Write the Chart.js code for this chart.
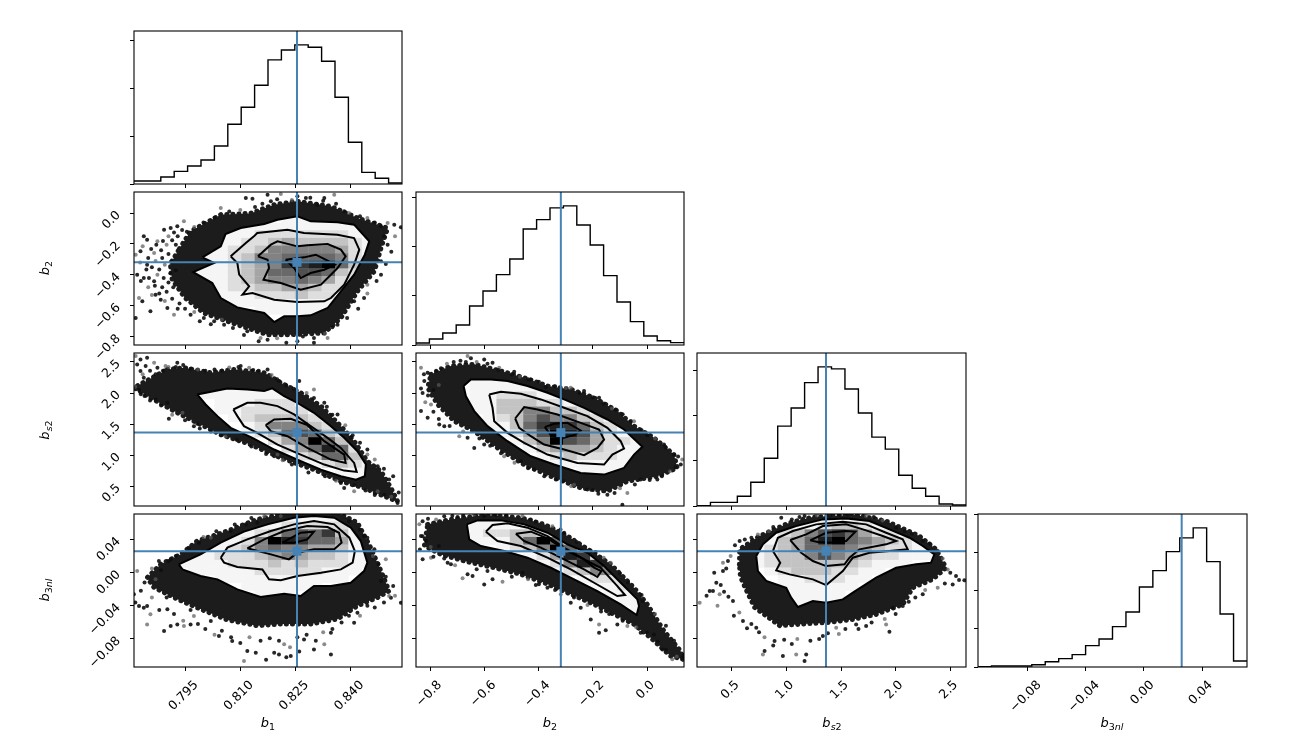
<!DOCTYPE html>
<html>
<head>
<meta charset="utf-8">
<script src="https://cdn.jsdelivr.net/npm/chart.js@4"></script>
<style>
  html, body { margin: 0; padding: 0; background: #fff; }
  #fig { position: relative; width: 1301px; height: 744px; overflow: hidden; }
  #fig canvas { position: absolute; left: 0; top: 0; }
  .lab { position: absolute; font: italic 13px "DejaVu Sans"; color: #000; white-space: nowrap; transform: translate(-50%, -50%); }
  .lab.rot { transform: translate(-50%, -50%) rotate(-90deg); }
  .lab sub { font-size: 9.5px; line-height: 0; vertical-align: -3px; }
  .lab sub span { font-style: normal; }
</style>
</head>
<body>
<div id="fig"></div>
<script>
// parameter ranges and truth values
const rangeB1 = [0.78114, 0.8539];
const rangeB2 = [-0.8544, 0.1368];
const rangeBs2 = [0.1825, 2.6436];
const rangeB3nl = [-0.1138, 0.0707];
const truthB1 = 0.8254;
const truthB2 = -0.3187;
const truthBs2 = 1.3628;
const truthB3nl = 0.0259;

// tick values and labels
const ticksB1 = [0.795, 0.81, 0.825, 0.84];
const ticksB2 = [-0.8, -0.6, -0.4, -0.2, 0];
const ticksBs2 = [0.5, 1, 1.5, 2, 2.5];
const ticksB3nl = [-0.08, -0.04, 0, 0.04];
const tickLabelsB1 = ["0.795", "0.810", "0.825", "0.840"];
const tickLabelsB2 = ["\u22120.8", "\u22120.6", "\u22120.4", "\u22120.2", "0.0"];
const tickLabelsBs2 = ["0.5", "1.0", "1.5", "2.0", "2.5"];
const tickLabelsB3nl = ["\u22120.08", "\u22120.04", "0.00", "0.04"];
const ticksCounts3k = [0, 1000, 2000, 3000];
const ticksCounts4k = [0, 1000, 2000, 3000, 4000];

// 1D histograms, 20 bins each
const histB1 = [63, 63, 147, 265, 377, 502, 796, 1249, 1605, 2066, 2596, 2805, 2910, 2861, 2568, 1814, 872, 244, 119, 21];
const histB2 = [41, 122, 245, 408, 796, 1102, 1435, 1755, 2367, 2558, 2796, 2837, 2449, 2041, 1415, 878, 476, 184, 88, 48];
const histBs2 = [7, 81, 81, 215, 526, 1059, 1770, 2170, 2733, 3081, 3037, 2593, 2059, 1526, 1259, 681, 393, 215, 44, 22];
const histB3nl = [9, 26, 26, 26, 61, 140, 219, 325, 561, 737, 1061, 1447, 2105, 2535, 3035, 3395, 3658, 2772, 1395, 158];

// b1 / b2
const cloudB1B2 = [[.7935,-.2300],[.7965,-.1181],[.8047,-.0101],[.8128,-.0017],[.8192,.0547],[.8255,.0763],[.8346,.0439],[.8418,-.0317],[.8500,-.0965],[.8482,-.2261],[.8464,-.3773],[.8418,-.5069],[.8373,-.6797],[.8328,-.7769],[.8237,-.7877],[.8174,-.7877],[.8092,-.7229],[.8001,-.6473],[.7950,-.5500],[.7915,-.4300],[.7910,-.3300]];
const outerB1B2 = [[.7997,-.2866],[.8047,-.2153],[.8060,-.1354],[.8101,-.0965],[.8165,-.0706],[.8201,-.0425],[.8255,-.0209],[.8291,-.0533],[.8364,-.0598],[.8409,-.0749],[.8450,-.1829],[.8438,-.2693],[.8409,-.3989],[.8373,-.5069],[.8337,-.6149],[.8291,-.6624],[.8255,-.6689],[.8219,-.6689],[.8192,-.7056],[.8165,-.6473],[.8092,-.6106],[.8047,-.5501],[.8024,-.4529],[.7972,-.3816],[.8029,-.3233]];
const levelsB1B2 = [
  [[.8074,-.2801],[.8115,-.1937],[.8137,-.1505],[.8146,-.1289],[.8228,-.1073],[.8273,-.1289],[.8364,-.1397],[.8409,-.1613],[.8423,-.2369],[.8409,-.3341],[.8382,-.4637],[.8346,-.5501],[.8328,-.5717],[.8255,-.5760],[.8192,-.5609],[.8133,-.5177],[.8106,-.5285],[.8124,-.4745],[.8097,-.3989],[.8092,-.3233]],
  [[.8148,-.2801],[.8183,-.2045],[.8201,-.1829],[.8255,-.2153],[.8282,-.2088],[.8337,-.2002],[.8373,-.2369],[.8386,-.2801],[.8364,-.3557],[.8319,-.4637],[.8264,-.4961],[.8210,-.4529],[.8163,-.4313],[.8178,-.3557],[.8174,-.3017]],
  [[.8223,-.3017],[.8273,-.2866],[.8305,-.2693],[.8337,-.3082],[.8357,-.3341],[.8328,-.3665],[.8291,-.3881],[.8264,-.4205],[.8246,-.3557]]
];
const samplesB1B2 = [[.7816,-.2693],[.7829,-.2477],[.7838,-.1505],[.7847,-.1721],[.7825,-.5501],[.7834,-.5717],[.7856,-.6365],[.7816,-.6797],[.7875,-.1829],[.7893,-.1073],[.7911,-.0965],[.7929,-.0857],[.7947,-.0533],[.7838,-.4205],[.7866,-.4421],[.7884,-.5609],[.7920,-.6581],[.7965,-.6581],[.8001,-.6797],[.7902,-.6149],[.7866,-.2585],[.7847,-.3341],[.7820,-.3989],[.7870,-.5285],[.8047,.0331],[.8115,.0979],[.8133,.0936],[.8174,.1195],[.8210,.1238],[.8255,.1087],[.8278,.0979],[.8328,.0979],[.8355,.1195],[.8183,.0763],[.8309,.0547],[.8382,.0115],[.8445,-.0317],[.8482,-.0857],[.8518,-.0749],[.8536,-.0922],[.8500,-.0641],[.8500,-.2045],[.8482,-.3125],[.8482,-.3989],[.8445,-.4637],[.8436,-.5501],[.8409,-.5717],[.8364,-.7229],[.8337,-.8093],[.8300,-.8093],[.8255,-.8309],[.8174,-.8201],[.8155,-.8093],[.8119,-.7661],[.8056,-.7229],[.8029,-.7013],
  [.7835,-.215],[.7858,-.232],[.7872,-.205],[.7890,-.180],[.7905,-.150],[.7920,-.125],[.7942,-.110],[.7885,-.240],[.7900,-.205],[.7915,-.175],[.7930,-.150],[.7850,-.290],[.7870,-.310],[.7888,-.290],[.7905,-.265],[.7925,-.205],[.7828,-.320],[.7845,-.365],[.7860,-.350],[.7880,-.365],[.7895,-.335],[.7912,-.315],[.7830,-.440],[.7852,-.420],[.7875,-.400],[.7892,-.420],[.7910,-.390],[.7925,-.370],[.7850,-.480],[.7868,-.470],[.7888,-.480],[.7905,-.450],[.7860,-.530],[.7880,-.520],[.7900,-.510],[.7918,-.480],[.7895,-.570],[.7915,-.555],[.7935,-.585],[.7950,-.620],[.7975,-.640],[.7930,-.620],[.7990,-.700],[.8020,-.720],[.8050,-.690],[.8080,-.745],[.8110,-.790],[.8150,-.830],[.8200,-.810],[.8225,-.840],[.8270,-.800],[.8300,-.840],[.8330,-.780],[.8350,-.740],[.8390,-.680],[.8420,-.620],[.8445,-.520],[.8470,-.440],[.8495,-.330],[.8510,-.250],[.8520,-.150],[.8490,-.150],[.8465,-.060],[.8425,-.020],[.8395,.000],[.8360,.060],[.8325,.080],[.8290,.100],[.8240,.085],[.8200,.090],[.8160,.060],[.8140,.040],[.8100,.020],[.8070,.010],[.8030,-.030],[.8000,-.060],[.7975,-.090],[.7955,-.120]];
const densityB1B2 = ["","","",
  "00000000000111000000","00000001111111111000","00000001122222221000","00000011223433332100","00000012235555542100","00000112355666652100","00000112345889a63100",
  "00001112346677632100","00000112345565422000","00000012233443221000","00000011122232210000","00000001111111100000","00000000011111000000","","","",""];

// b1 / bs2
const cloudB1Bs2 = [[.7902,2.380],[.7947,2.407],[.8020,2.327],[.8083,2.380],[.8165,2.327],[.8210,2.165],[.8264,2.004],[.8319,1.789],[.8373,1.467],[.8409,1.225],[.8445,.902],[.8482,.741],[.8509,.473],[.8527,.258],[.8491,.338],[.8436,.473],[.8373,.580],[.8300,.768],[.8210,.956],[.8128,1.171],[.8047,1.332],[.7983,1.520],[.7920,1.709],[.7856,1.923],[.7811,2.085]];
const outerB1Bs2 = [[.7983,1.977],[.8065,2.074],[.8119,2.058],[.8165,2.031],[.8187,2.074],[.8219,1.950],[.8255,1.843],[.8300,1.682],[.8346,1.467],[.8382,1.279],[.8418,1.064],[.8441,.849],[.8438,.661],[.8414,.607],[.8373,.661],[.8319,.768],[.8255,.929],[.8192,1.091],[.8133,1.279],[.8074,1.440],[.8038,1.628],[.8006,1.816]];
const levelsB1Bs2 = [
  [[.8081,1.735],[.8119,1.843],[.8155,1.843],[.8201,1.789],[.8246,1.655],[.8291,1.467],[.8337,1.279],[.8373,1.117],[.8409,.876],[.8416,.731],[.8382,.752],[.8328,.849],[.8264,1.010],[.8201,1.171],[.8146,1.359],[.8110,1.467],[.8092,1.628]],
  [[.8169,1.483],[.8192,1.574],[.8237,1.585],[.8282,1.483],[.8328,1.225],[.8382,1.010],[.8386,.876],[.8346,.929],[.8282,1.117],[.8228,1.305],[.8183,1.386]]
];
const samplesB1Bs2 = [[.7816,2.595],[.7829,2.541],[.7847,2.568],[.7843,2.434],[.7866,2.488],[.7829,2.353],[.7838,2.246],[.7875,2.407],[.7897,2.434],[.7929,2.488],[.7870,1.897],[.7902,1.843],[.7943,1.682],[.7906,1.585],[.7974,1.467],[.8101,2.434],[.8124,2.407],[.8174,2.380],[.8205,2.192],[.8260,2.192],[.8300,2.058],[.8328,1.843],[.8364,1.655],[.8400,1.279],[.8445,1.010],[.8473,.822],[.8504,.607],[.8491,.365],[.8473,.419],[.8527,.231],[.8373,.553],[.8382,.473],[.8409,.419],[.8264,.902],[.8300,.822],[.8192,.983],[.8201,1.010],[.8047,1.322],[.7983,1.504],
  [.7820,2.46],[.7835,2.30],[.7855,2.36],[.7870,2.30],[.7890,2.36],[.7905,2.42],[.7925,2.42],[.7945,2.45],[.7965,2.39],[.7985,2.38],[.8005,2.36],[.8030,2.38],[.8050,2.36],[.8070,2.41],[.8095,2.42],[.8135,2.37],[.8150,2.36],[.8185,2.29],[.8200,2.22],[.8225,2.12],[.8245,2.07],[.8280,2.00],[.8300,1.92],[.8335,1.78],[.8350,1.65],[.8385,1.48],[.8405,1.32],[.8425,1.20],[.8445,1.09],[.8465,.93],[.8490,.78],[.8515,.66],[.8530,.40],[.8510,.33],[.8465,.36],[.8440,.43],[.8410,.52],[.8360,.59],[.8330,.66],[.8285,.72],[.8240,.85],[.8215,.92],[.8170,1.02],[.8130,1.14],[.8090,1.25],[.8060,1.30],[.8020,1.38],[.7990,1.43],[.7950,1.56],[.7915,1.65],[.7885,1.80],[.7855,1.88],[.7830,1.98],[.7815,2.10],[.7825,2.05],[.7840,1.95]];
const densityB1Bs2 = ["","","","",
  "00000011111","000001111111","0000001112221","00000011222221","000000012333321","0000000012555321","00000000123676321","0000000000245a631","000000000002469621","000000000000236631","000000000000012321","000000000000000111","000000000000000011","","",""];

// b1 / b3nl
const cloudB1B3 = [[.7884,.0100],[.7938,.0220],[.7983,.0381],[.8065,.0502],[.8146,.0642],[.8237,.0723],[.8364,.0723],[.8418,.0602],[.8454,.0301],[.8482,.0019],[.8504,-.0222],[.8473,-.0300],[.8418,-.0400],[.8364,-.0560],[.8291,-.0620],[.8210,-.0620],[.8146,-.0640],[.8065,-.0570],[.7992,-.0440],[.7929,-.0320],[.7866,-.0180],[.7847,-.0061]];
const outerB1B3 = [[.7933,.0100],[.7992,.0220],[.8047,.0361],[.8110,.0494],[.8174,.0582],[.8246,.0662],[.8300,.0683],[.8355,.0662],[.8400,.0542],[.8427,.0381],[.8445,.0120],[.8436,.0019],[.8400,-.0122],[.8346,-.0162],[.8300,-.0162],[.8264,-.0282],[.8219,-.0254],[.8155,-.0294],[.8092,-.0202],[.8038,-.0081],[.7992,-.0041],[.7943,.0039]];
const levelsB1B3 = [
  [[.8047,.0180],[.8065,.0301],[.8119,.0401],[.8183,.0502],[.8246,.0582],[.8300,.0622],[.8355,.0582],[.8396,.0421],[.8411,.0260],[.8405,.0120],[.8373,.0039],[.8319,-.0001],[.8255,-.0041],[.8210,-.0093],[.8178,-.0081],[.8160,.0039],[.8092,.0067],[.8056,.0120]],
  [[.8119,.0293],[.8165,.0401],[.8219,.0502],[.8282,.0562],[.8337,.0550],[.8368,.0481],[.8375,.0361],[.8355,.0281],[.8300,.0281],[.8255,.0240],[.8232,.0160],[.8183,.0220]],
  [[.8214,.0361],[.8264,.0481],[.8300,.0494],[.8282,.0401],[.8246,.0361]]
];
const samplesB1B3 = [[.7820,.0019],[.7825,-.0403],[.7838,-.0423],[.7847,-.0403],[.7847,-.0624],[.7911,-.0644],[.7929,-.0624],[.7893,-.0704],[.7947,-.0644],[.7879,.0140],[.7911,.0160],[.7988,.0361],[.8020,.0421],[.8074,.0502],[.8115,.0582],[.8146,.0602],[.8210,.0682],[.8300,.0695],[.8436,.0441],[.8464,.0281],[.8495,.0160],[.8482,-.0101],[.8509,-.0302],[.8536,-.0363],[.8504,-.0282],[.8418,-.0483],[.8409,-.0604],[.8346,-.0725],[.8328,-.0865],[.8346,-.0986],[.8300,-.0926],[.8273,-.0805],[.8219,-.0865],[.8192,-.0966],[.8142,-.0966],[.8119,-.0946],[.8110,-.1066],[.8078,-.0825],[.8042,-.0765],[.8020,-.0584],[.7974,-.0524],[.7965,-.0624],[.7811,-.0262],[.7902,-.0443],[.7856,-.0503],[.8237,-.1006],[.8205,-.0986],
  [.7840,-.012],[.7860,-.030],[.7880,-.045],[.7900,-.030],[.7920,-.050],[.7945,-.058],[.7965,-.045],[.7985,-.062],[.8005,-.068],[.8030,-.075],[.8050,-.070],[.8075,-.078],[.8100,-.085],[.8125,-.078],[.8155,-.082],[.8180,-.079],[.8205,-.082],[.8235,-.090],[.8255,-.078],[.8280,-.075],[.8305,-.082],[.8325,-.072],[.8350,-.068],[.8375,-.060],[.8395,-.052],[.8425,-.052],[.8445,-.040],[.8465,-.042],[.8490,-.036],[.8520,-.028],[.8515,-.016],[.8495,-.005],[.8475,.010],[.8460,.020],[.8445,.042],[.8425,.052],[.8395,.062],[.7860,.005],[.7885,.003],[.7905,.014],[.7925,.020],[.7870,-.008],[.7830,-.022],[.7815,-.036],[.7960,.030],[.8000,.043],[.8035,.050],[.8085,.058],[.8130,.066],[.8165,.068],[.8260,-.095],[.8170,-.105],[.8225,-.102]];
const densityB1B3 = ["0000000000111111","00000000011222221","000000011236768311","0000001125a9866411","000001123565544311","000011222345433211","000111122232322211","00001111122222111","0000001111111111","00000000111111","000000000111","","","","","","","","",""];

// b2 / bs2
const cloudB2Bs2 = [[-.7990,2.300],[-.7252,2.434],[-.6390,2.461],[-.5405,2.354],[-.4543,2.246],[-.3682,2.112],[-.2820,2.058],[-.1958,1.923],[-.1097,1.709],[-.0481,1.467],[.0257,1.279],[.0996,1.010],[.1119,.795],[.0381,.661],[-.0727,.580],[-.1466,.419],[-.2451,.473],[-.3559,.661],[-.4543,.849],[-.5528,1.117],[-.6390,1.386],[-.7129,1.547],[-.7744,1.816],[-.8113,2.085]];
const outerB2Bs2 = [[-.6784,2.112],[-.6513,2.219],[-.5775,2.219],[-.5159,2.192],[-.4420,2.112],[-.3682,2.004],[-.3066,1.897],[-.2328,1.762],[-.1466,1.574],[-.0850,1.413],[-.0173,1.134],[-.0481,1.010],[-.0850,.795],[-.1589,.688],[-.2451,.714],[-.3436,.849],[-.4297,.983],[-.5159,1.225],[-.5898,1.467],[-.6390,1.709],[-.6698,1.950]];
const levelsB2Bs2 = [
  [[-.5836,1.977],[-.5405,2.020],[-.4666,1.988],[-.3928,1.897],[-.3066,1.762],[-.2205,1.628],[-.1466,1.440],[-.0974,1.225],[-.0850,1.107],[-.1281,1.010],[-.1589,.849],[-.2574,.876],[-.3682,1.010],[-.4543,1.198],[-.5159,1.359],[-.5651,1.547],[-.5713,1.762]],
  [[-.4876,1.590],[-.4543,1.773],[-.4051,1.735],[-.3313,1.655],[-.2451,1.520],[-.1774,1.413],[-.1589,1.252],[-.1835,1.117],[-.2328,.999],[-.3066,1.091],[-.3805,1.171],[-.4297,1.305],[-.4728,1.440]],
  [[-.3780,1.451],[-.3436,1.504],[-.2943,1.520],[-.2451,1.397],[-.2697,1.322],[-.3189,1.268],[-.3559,1.322]]
];
const samplesB2Bs2 = [[-.8360,2.407],[-.8113,2.327],[-.8237,2.192],[-.8360,2.074],[-.6636,2.595],[-.6513,2.558],[-.6021,2.541],[-.5713,2.488],[-.5467,2.407],[-.4913,2.343],[-.4297,2.219],[-.3743,2.095],[-.2820,2.085],[-.2328,2.031],[-.1774,1.923],[-.1158,1.735],[-.0481,1.547],[.0011,1.322],[.0627,1.171],[.0996,1.010],[.1304,.929],[.1057,.806],[.0381,.607],[-.0235,.607],[-.0727,.392],[-.0912,.204],[-.1466,.365],[-.2205,.446],[-.2697,.526],[-.3374,.607],[-.4174,.768],[-.4666,.902],[-.5282,.983],[-.6021,1.171],[-.6390,1.117],[-.6636,1.279],[-.6944,1.305],[-.7683,1.494],[-.8113,1.601],[-.8360,1.709],[-.7990,1.816],[-.7498,1.467],
  [-.7800,2.36],[-.7620,2.40],[-.7400,2.47],[-.7150,2.50],[-.6900,2.52],[-.6700,2.50],[-.6300,2.50],[-.5900,2.47],[-.5500,2.37],[-.5000,2.30],[-.4700,2.26],[-.4400,2.22],[-.4000,2.18],[-.3400,2.11],[-.3000,2.08],[-.2500,2.00],[-.2000,1.93],[-.1600,1.83],[-.1300,1.75],[-.0900,1.66],[-.0600,1.55],[-.0200,1.40],[.0300,1.27],[.0700,1.12],[.1150,.98],[.1250,.85],[.0850,.74],[.0550,.66],[.0100,.60],[-.0450,.53],[-.1000,.47],[-.1200,.39],[-.1800,.38],[-.2000,.44],[-.2800,.50],[-.3100,.58],[-.3800,.66],[-.4400,.79],[-.4900,.88],[-.5400,1.03],[-.5800,1.15],[-.6200,1.27],[-.6800,1.38],[-.7300,1.47],[-.7700,1.58],[-.7900,1.70],[-.8200,1.85],[-.8100,1.96],[-.8300,2.00],[-.8250,2.30],[-.7700,2.13],[-.7900,2.05]];
const densityB2Bs2 = ["","","",
  "00001111","0000111111","00001122211","0000113332211","00001133553321","0000012357553211","0000011368986321","0000001247a974211","0000000135a764221","00000000134443211","0000000001232221","0000000000111111","000000000000111","","","",""];

// b2 / b3nl
const cloudB2B3 = [[-.8113,.0582],[-.7252,.0642],[-.6021,.0695],[-.4666,.0662],[-.3805,.0582],[-.2943,.0441],[-.2081,.0260],[-.1343,.0100],[-.0481,-.0182],[.0011,-.0383],[.0627,-.0704],[.1243,-.0946],[.1341,-.1046],[.0873,-.1006],[.0134,-.0785],[-.0481,-.0624],[-.1220,-.0503],[-.1958,-.0383],[-.2943,-.0242],[-.3805,-.0122],[-.4666,-.0021],[-.5651,.0059],[-.6759,.0140],[-.7621,.0220],[-.8236,.0321]];
const outerB2B3 = [[-.6661,.0582],[-.6267,.0630],[-.5405,.0630],[-.4543,.0582],[-.3682,.0481],[-.2943,.0341],[-.2205,.0240],[-.1589,.0079],[-.0973,-.0122],[-.0358,-.0323],[-.0296,-.0403],[-.0383,-.0511],[-.0973,-.0383],[-.1835,-.0222],[-.2697,-.0081],[-.3559,.0059],[-.4420,.0180],[-.5282,.0260],[-.6144,.0321],[-.6575,.0401]];
const levelsB2B3 = [
  [[-.5959,.0494],[-.5713,.0574],[-.5159,.0594],[-.4420,.0542],[-.3682,.0441],[-.3066,.0301],[-.2328,.0160],[-.1712,.0059],[-.1097,-.0162],[-.0813,-.0270],[-.1097,-.0282],[-.1958,-.0122],[-.2820,.0039],[-.3682,.0180],[-.4666,.0321],[-.5528,.0381]],
  [[-.4851,.0469],[-.4297,.0494],[-.3682,.0413],[-.2943,.0260],[-.2328,.0160],[-.1958,.0059],[-.1688,.0019],[-.1835,-.0053],[-.2328,.0039],[-.3066,.0160],[-.3928,.0301],[-.4543,.0381]]
];
const samplesB2B3 = [[-.8421,.0582],[-.8360,.0441],[-.8175,.0381],[-.8298,.0160],[-.7990,.0180],[-.7375,.0120],[-.7252,.0100],[-.6636,-.0021],[-.6821,-.0069],[-.6451,-.0041],[-.6021,-.0142],[-.5713,-.0081],[-.5344,-.0109],[-.4605,-.0001],[-.4113,-.0150],[-.3682,-.0182],[-.3189,-.0262],[-.2820,-.0363],[-.2451,-.0423],[-.2081,-.0564],[-.1774,-.0624],[-.1774,-.0725],[-.1527,-.0696],[-.1097,-.0624],[-.0727,-.0644],[-.0235,-.0725],[.0257,-.0745],[.0565,-.0926],[.0935,-.1046],[.1304,-.1026],[-.7006,.0670],[-.6021,.0682],[-.4605,.0682],[-.4113,.0614],[-.3066,.0481],[-.2081,.0260],[-.1343,.0120],[-.0173,-.0343],
  [-.8300,.0620],[-.8100,.0650],[-.7800,.0640],[-.7500,.0680],[-.7200,.0685],[-.6800,.0690],[-.6400,.0700],[-.5600,.0695],[-.5200,.0690],[-.4300,.0640],[-.3500,.0560],[-.3200,.0520],[-.2600,.0370],[-.1900,.0250],[-.1600,.0180],[-.1000,-.0010],[-.0700,-.0120],[-.0200,-.0270],[.0300,-.0500],[.0700,-.0640],[.1000,-.0820],[.1350,-.1000],[.1100,-.1010],[.0700,-.0930],[.0400,-.0830],[.0000,-.0720],[-.0400,-.0660],[-.0900,-.0580],[-.1400,-.0500],[-.1700,-.0470],[-.2200,-.0390],[-.2700,-.0300],[-.3400,-.0210],[-.4000,-.0140],[-.4400,-.0080],[-.5000,-.0050],[-.5900,.0020],[-.6300,.0040],[-.7100,.0090],[-.7500,.0170],[-.7900,.0190],[-.8400,.0280],[-.8000,.0310],[-.8300,.0440],[-.7700,.0320]];
const densityB2B3 = ["",
  "0000111111","00001223321","000011136a61","0000001235a61","00000000124982","000000000125981","0000000000123551","00000000000012221","00000000000001121","00000000000000111","00000000000000011","00000000000000001","","","","","","",""];

// bs2 / b3nl
const cloudBs2B3 = [[.5700,.0100],[.5724,.0281],[.7552,.0441],[1.0293,.0602],[1.2425,.0670],[1.6385,.0695],[1.9127,.0622],[2.2173,.0441],[2.3695,.0281],[2.4609,.0059],[2.3391,-.0081],[2.1563,-.0182],[2.0649,-.0383],[1.8213,-.0503],[1.6081,-.0564],[1.3949,-.0600],[1.1500,-.0620],[.9400,-.0640],[.7100,-.0420],[.6300,-.0200],[.5800,-.0050]];
const outerBs2B3 = [[.7247,.0200],[.7856,.0341],[.9075,.0481],[1.0902,.0562],[1.3339,.0642],[1.5471,.0654],[1.7604,.0622],[1.9431,.0522],[2.1259,.0421],[2.2477,.0321],[2.3543,.0220],[2.3239,.0120],[2.1868,.0100],[2.0040,.0059],[1.8213,-.0061],[1.6081,-.0242],[1.5167,-.0323],[1.3644,-.0363],[1.2425,-.0343],[1.1055,-.0415],[1.0445,-.0302],[.9988,-.0182],[.8161,-.0101],[.7399,.0019]];
const levelsBs2B3 = [
  [[.8770,.0260],[.9227,.0421],[1.0598,.0502],[1.2730,.0582],[1.5167,.0614],[1.7299,.0582],[1.9127,.0481],[2.0649,.0401],[2.1106,.0281],[1.9431,.0260],[1.7604,.0240],[1.6081,.0180],[1.5167,.0019],[1.3644,-.0150],[1.2425,-.0081],[1.0293,-.0021],[.9075,.0027],[.9440,.0120]],
  [[1.0354,.0393],[1.1816,.0461],[1.3339,.0562],[1.5471,.0582],[1.7299,.0510],[1.8822,.0441],[2.0040,.0381],[1.9127,.0341],[1.6690,.0281],[1.5776,.0180],[1.5319,.0100],[1.3644,.0079],[1.2425,.0140],[1.1359,.0240]],
  [[1.2182,.0389],[1.3644,.0481],[1.5471,.0502],[1.6324,.0494],[1.5471,.0381],[1.3949,.0361],[1.2882,.0369]]
];
const samplesBs2B3 = [[.2069,-.0363],[.2983,-.0222],[.3592,-.0122],[.3287,-.0222],[.4201,.0120],[.4658,.0140],[.5724,.0381],[.4201,.0019],[.7399,.0461],[.9532,.0662],[1.1664,.0682],[1.4862,.0695],[1.7299,.0682],[2.0040,.0542],[2.2477,.0381],[2.3848,.0260],[2.4762,.0039],[2.5523,-.0041],[2.6285,-.0093],[2.5218,-.0142],[2.3848,-.0182],[2.2477,-.0262],[2.0649,-.0403],[1.9736,-.0423],[1.9127,-.0624],[1.9431,-.0713],[1.7299,-.0644],[1.6385,-.0624],[1.4558,-.0664],[1.3339,-.0765],[1.1816,-.0986],[1.1664,-.1066],[1.0902,-.0986],[.9684,-.1006],[.8009,-.0946],[.8922,-.0825],[.7856,-.0986],[.7247,-.0664],[.6029,-.0584],[.5115,-.0343],[.3896,-.0262],
  [.3400,.0000],[.4000,-.0150],[.4500,.0050],[.4900,.0200],[.5300,.0330],[.6200,.0400],[.6800,.0420],[.8400,.0500],[.8800,.0550],[1.0500,.0640],[1.1200,.0670],[1.2800,.0690],[1.4000,.0690],[1.5600,.0700],[1.8000,.0670],[1.8800,.0630],[2.0800,.0500],[2.1500,.0470],[2.3100,.0350],[2.4300,.0170],[2.5000,.0000],[2.5800,-.0090],[2.4500,-.0130],[2.2700,-.0210],[2.1800,-.0300],[2.1200,-.0350],[2.0000,-.0500],[1.9000,-.0560],[1.7800,-.0600],[1.6600,-.0680],[1.5400,-.0680],[1.4800,-.0740],[1.3800,-.0730],[1.3000,-.0800],[1.2200,-.0820],[1.1000,-.0800],[1.0500,-.0860],[.9800,-.0810],[.8800,-.0880],[.8000,-.0780],[.7500,-.0720],[.6800,-.0620],[.6400,-.0670],[.5700,-.0480],[.5200,-.0520],[.4700,-.0290],[.4300,-.0230],[.3700,-.0400],[.2700,-.0280]];
const densityBs2B3 = ["0000000001111","00000001123321","0000002357864221","0000013469a654321","000012346665432211","000012335754322111","0000123333332111","00000123332211","0000001122211","000000111111","00000001111","00000001111","","","","","","","",""];

const colLeft = [134, 416, 697, 978];
const colRight = [402, 684, 966, 1247];
const rowTop = [31, 192, 353, 514];
const rowBottom = [184, 345, 506, 667];
const grays = [255, 245, 222, 195, 165, 130, 105, 80, 55, 30, 0];
const tickFont = '12.5px "DejaVu Sans"';
const fig = document.getElementById("fig");

function toPoints(pairs) {
  return pairs.map((p) => ({ x: p[0], y: p[1] }));
}

function closed(pairs) {
  return toPoints(pairs.concat([pairs[0]]));
}

// frame and tick labels, matplotlib style (rotated 45 degrees)
function framePlugin(xLabels, yLabels) {
  return {
    id: "frame",
    afterDraw(chart) {
      const { ctx, chartArea: a, scales } = chart;
      ctx.save();
      ctx.strokeStyle = "#000";
      ctx.lineWidth = 1.1;
      ctx.strokeRect(a.left, a.top, a.right - a.left, a.bottom - a.top);
      ctx.fillStyle = "#000";
      ctx.font = tickFont;
      ctx.textAlign = "center";
      ctx.textBaseline = "middle";
      const ext = (s) => ((ctx.measureText(s).width + 6) * Math.SQRT1_2) / 2;
      const put = (s, x, y) => {
        ctx.save();
        ctx.translate(x, y);
        ctx.rotate(-Math.PI / 4);
        ctx.fillText(s, 0, 0);
        ctx.restore();
      };
      if (xLabels) {
        scales.x.ticks.forEach((t, i) => {
          put(xLabels[i], scales.x.getPixelForValue(t.value) - 1.5, a.bottom + 14 + ext(xLabels[i]));
        });
      }
      if (yLabels) {
        scales.y.ticks.forEach((t, i) => {
          put(yLabels[i], a.left - 13.3 - ext(yLabels[i]), scales.y.getPixelForValue(t.value) - 2 + ext(yLabels[i]));
        });
      }
      ctx.restore();
    },
  };
}

// white area inside the outer contour plus the 2D histogram cells
function densityPlugin(outer, density, xr, yr) {
  return {
    id: "density",
    afterDatasetDraw(chart, args) {
      if (chart.data.datasets[args.index].label !== "samples") return;
      const { ctx, scales } = chart;
      const px = (v) => scales.x.getPixelForValue(v);
      const py = (v) => scales.y.getPixelForValue(v);
      const dx = (xr[1] - xr[0]) / 20;
      const dy = (yr[1] - yr[0]) / 20;
      ctx.save();
      ctx.beginPath();
      outer.forEach((p, i) => (i ? ctx.lineTo(px(p[0]), py(p[1])) : ctx.moveTo(px(p[0]), py(p[1]))));
      ctx.closePath();
      ctx.fillStyle = "#fff";
      ctx.fill();
      ctx.clip();
      density.forEach((row, j) => {
        for (let i = 0; i < row.length; i++) {
          const level = parseInt(row[i], 16);
          if (!level) continue;
          const g = grays[level];
          const x0 = px(xr[0] + i * dx);
          const x1 = px(xr[0] + (i + 1) * dx);
          const y0 = py(yr[1] - j * dy);
          const y1 = py(yr[1] - (j + 1) * dy);
          ctx.fillStyle = `rgb(${g},${g},${g})`;
          ctx.fillRect(x0, y0, x1 - x0 + 0.3, y1 - y0 + 0.3);
        }
      });
      ctx.restore();
    },
  };
}

function scaleOptions(range, ticks, horizontal) {
  return {
    type: "linear",
    min: range[0],
    max: range[1],
    position: horizontal ? "bottom" : "left",
    afterBuildTicks(scale) {
      scale.ticks = ticks.map((value) => ({ value }));
    },
    afterFit(scale) {
      if (horizontal) scale.height = 0;
      else scale.width = 0;
    },
    ticks: { display: false, autoSkip: false },
    border: { display: false },
    grid: { drawOnChartArea: false, color: "#000", tickLength: 4, tickWidth: 1 },
  };
}

function addChart(col, row, datasets, xAxis, yAxis, xLabels, yLabels, extra) {
  const canvas = document.createElement("canvas");
  canvas.width = 1301;
  canvas.height = 744;
  canvas.style.width = "1301px";
  canvas.style.height = "744px";
  fig.appendChild(canvas);
  new Chart(canvas, {
    type: "scatter",
    data: { datasets },
    options: {
      responsive: false,
      animation: false,
      devicePixelRatio: 1,
      layout: {
        autoPadding: false,
        padding: { left: colLeft[col], right: 1301 - colRight[col], top: rowTop[row], bottom: 744 - rowBottom[row] },
      },
      plugins: { legend: { display: false }, tooltip: { enabled: false } },
      scales: {
        x: scaleOptions(xAxis.range, xAxis.ticks, true),
        y: scaleOptions(yAxis.range, yAxis.ticks, false),
      },
    },
    plugins: (extra || []).concat([framePlugin(xLabels, yLabels)]),
  });
}

function truthLine(a, b) {
  return { data: [a, b], showLine: true, pointRadius: 0, borderColor: "#4682b4", borderWidth: 2 };
}

function addHist(i, axis, hist, truth, countTicks) {
  const w = (axis.range[1] - axis.range[0]) / hist.length;
  const steps = hist.map((v, k) => ({ x: axis.range[0] + k * w, y: v }));
  steps.push({ x: axis.range[1], y: hist[hist.length - 1] });
  const top = Math.max(...hist) * 1.1;
  addChart(i, i, [
    truthLine({ x: truth, y: 0 }, { x: truth, y: top }),
    { data: steps, showLine: true, stepped: true, pointRadius: 0, borderColor: "#000", borderWidth: 1.4 },
  ], axis, { range: [0, top], ticks: countTicks }, i === 3 ? tickLabelsB3nl : null, null);
}

function addPair(col, row, xAxis, yAxis, p, xLabels, yLabels) {
  const contour = (pairs) => ({ data: closed(pairs), showLine: true, pointRadius: 0, borderColor: "#000", borderWidth: 2 });
  const datasets = [
    { data: [{ x: xAxis.truth, y: yAxis.truth }], pointStyle: "rect", pointRadius: 6.4, backgroundColor: "#4682b4", borderWidth: 0 },
    truthLine({ x: xAxis.truth, y: yAxis.range[0] }, { x: xAxis.truth, y: yAxis.range[1] }),
    truthLine({ x: xAxis.range[0], y: yAxis.truth }, { x: xAxis.range[1], y: yAxis.truth }),
    ...p.levels.map(contour),
    contour(p.outer),
    {
      label: "samples",
      data: toPoints(p.samples),
      pointRadius: 2,
      borderWidth: 0,
      backgroundColor: (c) => (c.dataIndex % 4 === 0 ? "rgba(90,90,90,0.7)" : "rgba(15,15,15,0.9)"),
    },
    // dotted round edge so the dense part does not end in a hard line
    { data: closed(p.cloud), showLine: true, fill: "shape", pointRadius: 0, borderWidth: 5, borderDash: [0.1, 6], borderCapStyle: "round", borderColor: "#1c1c1c", backgroundColor: "#1c1c1c" },
  ];
  addChart(col, row, datasets, xAxis, yAxis, xLabels, yLabels, [densityPlugin(p.outer, p.density, xAxis.range, yAxis.range)]);
}

const axisB1 = { range: rangeB1, ticks: ticksB1, truth: truthB1 };
const axisB2 = { range: rangeB2, ticks: ticksB2, truth: truthB2 };
const axisBs2 = { range: rangeBs2, ticks: ticksBs2, truth: truthBs2 };
const axisB3 = { range: rangeB3nl, ticks: ticksB3nl, truth: truthB3nl };

addHist(0, axisB1, histB1, truthB1, ticksCounts3k);
addHist(1, axisB2, histB2, truthB2, ticksCounts3k);
addHist(2, axisBs2, histBs2, truthBs2, ticksCounts3k);
addHist(3, axisB3, histB3nl, truthB3nl, ticksCounts4k);

addPair(0, 1, axisB1, axisB2, { cloud: cloudB1B2, outer: outerB1B2, levels: levelsB1B2, samples: samplesB1B2, density: densityB1B2 }, null, tickLabelsB2);
addPair(0, 2, axisB1, axisBs2, { cloud: cloudB1Bs2, outer: outerB1Bs2, levels: levelsB1Bs2, samples: samplesB1Bs2, density: densityB1Bs2 }, null, tickLabelsBs2);
addPair(0, 3, axisB1, axisB3, { cloud: cloudB1B3, outer: outerB1B3, levels: levelsB1B3, samples: samplesB1B3, density: densityB1B3 }, tickLabelsB1, tickLabelsB3nl);
addPair(1, 2, axisB2, axisBs2, { cloud: cloudB2Bs2, outer: outerB2Bs2, levels: levelsB2Bs2, samples: samplesB2Bs2, density: densityB2Bs2 }, null, null);
addPair(1, 3, axisB2, axisB3, { cloud: cloudB2B3, outer: outerB2B3, levels: levelsB2B3, samples: samplesB2B3, density: densityB2B3 }, tickLabelsB2, null);
addPair(2, 3, axisBs2, axisB3, { cloud: cloudBs2B3, outer: outerBs2B3, levels: levelsBs2B3, samples: samplesBs2B3, density: densityBs2B3 }, tickLabelsBs2, null);

// axis titles
const axisTitles = [
  ["b<sub><span>1</span></sub>", 268, 722, false],
  ["b<sub><span>2</span></sub>", 550, 722, false],
  ["b<sub>s<span>2</span></sub>", 832, 722, false],
  ["b<sub><span>3</span>nl</sub>", 1112, 722, false],
  ["b<sub><span>2</span></sub>", 44, 268, true],
  ["b<sub>s<span>2</span></sub>", 44, 430, true],
  ["b<sub><span>3</span>nl</sub>", 44, 590, true],
];
axisTitles.forEach(([html, x, y, rot]) => {
  const el = document.createElement("div");
  el.className = rot ? "lab rot" : "lab";
  el.style.left = x + "px";
  el.style.top = y + "px";
  el.innerHTML = html;
  fig.appendChild(el);
});
</script>
</body>
</html>
